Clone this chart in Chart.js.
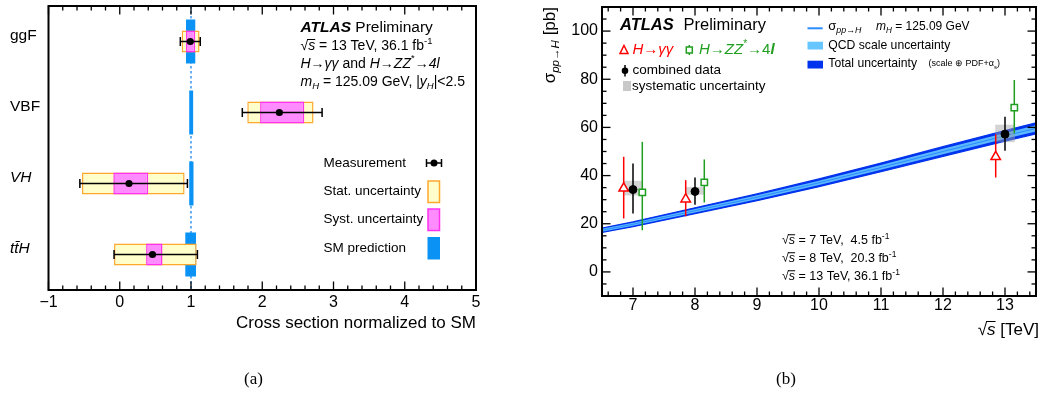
<!DOCTYPE html>
<html>
<head>
<meta charset="utf-8">
<script src="https://cdn.jsdelivr.net/npm/chart.js@4.4.0/dist/chart.umd.min.js"></script>
<style>
  body { margin: 0; background: #fff; width: 1043px; height: 401px; position: relative; overflow: hidden; }
  #wa { position: absolute; left: 0; top: 0; width: 520px; height: 401px; }
  #wb { position: absolute; left: 520px; top: 0; width: 523px; height: 401px; }
  .cap { position: absolute; top: 369px; font-family: "Liberation Serif", "Times New Roman", serif; font-size: 17px; }
</style>
</head>
<body>
<div id="wa"><canvas id="chartA"></canvas></div>
<div id="wb"><canvas id="chartB"></canvas></div>
<div class="cap" style="left:244px">(a)</div>
<div class="cap" style="left:776px">(b)</div>

<script>
const FONT = '"Liberation Sans", Arial, Helvetica, sans-serif';

// ---- panel (a): cross sections normalized to SM
const processes = ['ggF', 'VBF', 'VH', 'tt\u0304H'];
const measured = [0.99, 2.24, 0.13, 0.46];
const measLo = [0.85, 1.72, -0.56, -0.08];
const measHi = [1.13, 2.84, 0.95, 1.09];
const statBox = [[0.87, 1.12], [1.79, 2.72], [-0.53, 0.91], [-0.08, 1.08]];
const systBox = [[0.93, 1.06], [1.97, 2.59], [-0.09, 0.40], [0.37, 0.60]];
const smBand = [[0.93, 1.06], [0.975, 1.03], [0.975, 1.035], [0.92, 1.07]];
const smRef = 1;
const ratioTicks = [-1, 0, 1, 2, 3, 4, 5];

// ---- panel (b): sigma(pp->H) vs sqrt(s)
const xGamma = [6.85, 7.85, 12.85];
const gammaVal = [34.7, 30.2, 47.8];
const gammaLo = [22.2, 23.1, 39.2];
const gammaHi = [47.8, 38.1, 57.1];

const xZZ = [7.15, 8.15, 13.15];
const zzVal = [33.0, 37.2, 68.2];
const zzLo = [17.3, 28.8, 57.5];
const zzHi = [54.0, 46.7, 79.7];

const xComb = [7, 8, 13];
const combVal = [34.2, 33.4, 57.2];
const combLo = [24.3, 27.9, 50.3];
const combHi = [45.0, 39.2, 64.4];
const systLo = [31.9, 32.2, 54.0];
const systHi = [37.7, 35.1, 61.0];

const bandX = [6.5, 7, 8, 9, 10, 11, 12, 13, 13.5];
const theory = [17.3, 19.8, 25.4, 31.0, 37.0, 43.4, 50.0, 56.5, 59.6];
const qcdHi = [17.9, 20.4, 26.1, 31.8, 37.9, 44.4, 51.1, 57.7, 60.9];
const qcdLo = [16.7, 19.2, 24.7, 30.2, 36.1, 42.4, 48.9, 55.3, 58.3];
const totHi = [18.2, 20.8, 26.6, 32.4, 38.6, 45.2, 52.0, 58.7, 61.9];
const totLo = [16.4, 18.8, 24.2, 29.6, 35.4, 41.6, 48.0, 54.3, 57.3];

const energyTicks = [7, 8, 9, 10, 11, 12, 13];
const sigmaTicks = [0, 20, 40, 60, 80, 100];

Chart.defaults.font.family = FONT;
Chart.defaults.color = '#000';

// rich text: parts = [text, flags] ; b bold, i italic, _ sub, ^ sup, o overline
function rich(ctx, x, y, parts, size, align) {
  const items = parts.map(([t, f = '']) => {
    const small = f.includes('_') || f.includes('^');
    const sz = small ? size * 0.68 : size;
    const font = (f.includes('i') ? 'italic ' : '') + (f.includes('b') ? 'bold ' : '') + sz + 'px ' + FONT;
    ctx.font = font;
    const w = ctx.measureText(t).width;
    const dy = f.includes('_') ? size * 0.32 : f.includes('^') ? -size * 0.38 : 0;
    return { t, font, w, dy, over: f.includes('o'), sz };
  });
  const total = items.reduce((s, it) => s + it.w, 0);
  let cx = align === 'right' ? x - total : x;
  ctx.textAlign = 'left';
  ctx.textBaseline = 'middle';
  items.forEach(it => {
    ctx.font = it.font;
    ctx.fillText(it.t, cx, y + it.dy);
    if (it.over) {
      ctx.fillRect(cx - 1, y - it.sz * 0.5 - 0.5, it.w + 1, 1);
    }
    cx += it.w;
  });
  return total;
}

const errorBars = {
  id: 'errorBars',
  beforeDatasetDraw(chart, args) {
    const ds = chart.data.datasets[args.index];
    if (!ds.errLo) return;
    const ctx = chart.ctx;
    const xs = chart.scales.x, ys = chart.scales.y;
    ctx.save();
    ctx.strokeStyle = ds.errColor;
    ctx.lineWidth = 1.5;
    args.meta.data.forEach((pt, i) => {
      ctx.beginPath();
      if (ds.errAxis === 'x') {
        const a = xs.getPixelForValue(ds.errLo[i]);
        const b = xs.getPixelForValue(ds.errHi[i]);
        ctx.moveTo(a, pt.y); ctx.lineTo(b, pt.y);
        ctx.moveTo(a, pt.y - 4.5); ctx.lineTo(a, pt.y + 4.5);
        ctx.moveTo(b, pt.y - 4.5); ctx.lineTo(b, pt.y + 4.5);
      } else {
        const a = ys.getPixelForValue(ds.errLo[i]);
        const b = ys.getPixelForValue(ds.errHi[i]);
        ctx.moveTo(pt.x, a); ctx.lineTo(pt.x, b);
      }
      ctx.stroke();
    });
    ctx.restore();
  }
};

// minor/major tick values from a scale range
function tickList(min, max, minor, major) {
  const out = [];
  const k0 = Math.ceil(min / minor - 1e-6), k1 = Math.floor(max / minor + 1e-6);
  for (let k = k0; k <= k1; k++) {
    const v = k * minor;
    out.push({ v, major: Math.abs(v / major - Math.round(v / major)) < 1e-6 });
  }
  return out;
}

// inward tick marks on all sides + frame
function frameTicks(cfg) {
  return {
    id: 'frameTicks' + cfg.name,
    afterDraw(chart) {
      const ctx = chart.ctx;
      const xs = chart.scales.x, ys = chart.scales.y;
      const top = ys.top, bottom = xs.top, left = xs.left, right = xs.right;
      const w = 1.3;
      ctx.save();
      ctx.fillStyle = '#000';
      if (cfg.x) {
        tickList(xs.min, xs.max, cfg.x[0], cfg.x[1]).forEach(t => {
          const len = t.major ? 8.5 : 4.5;
          const p = xs.getPixelForValue(t.v);
          ctx.fillRect(p - w / 2, bottom - len, w, len);
          ctx.fillRect(p - w / 2, top, w, len);
        });
      }
      if (cfg.y) {
        tickList(ys.min, ys.max, cfg.y[0], cfg.y[1]).forEach(t => {
          const len = t.major ? 8.5 : 4.5;
          const p = ys.getPixelForValue(t.v);
          ctx.fillRect(left, p - w / 2, len, w);
          ctx.fillRect(right - len, p - w / 2, len, w);
        });
      }
      ctx.strokeStyle = '#000';
      ctx.lineWidth = 2;
      ctx.strokeRect(left, top, right - left, bottom - top);
      ctx.restore();
    }
  };
}

const noPad = a => { a.paddingTop = 0; a.paddingBottom = 0; a.paddingLeft = 0; a.paddingRight = 0; };

// ================= panel (a)
const panelA = {
  id: 'panelA',
  beforeDatasetsDraw(chart) {
    const ctx = chart.ctx;
    const x = chart.scales.x.getPixelForValue(smRef);
    ctx.save();
    ctx.strokeStyle = '#2b8fef';
    ctx.lineWidth = 1.4;
    ctx.setLineDash([2.5, 2.5]);
    ctx.beginPath();
    ctx.moveTo(x, chart.chartArea.top);
    ctx.lineTo(x, chart.chartArea.bottom);
    ctx.stroke();
    ctx.restore();
  },
  afterDraw(chart) {
    const ctx = chart.ctx;
    ctx.save();
    ctx.fillStyle = '#000';
    rich(ctx, 300.5, 28, [['ATLAS', 'bi'], [' Preliminary', '']], 15.5);
    rich(ctx, 300.5, 46.5, [['\u221a', ''], ['s', 'io'], [' = 13 TeV, 36.1 fb', ''], ['-1', '^']], 14);
    rich(ctx, 300.5, 64, [['H', 'i'], ['\u2192', ''], ['\u03b3\u03b3', 'i'], [' and ', ''], ['H', 'i'], ['\u2192', ''],
      ['ZZ', 'i'], ['*', '^'], ['\u2192', ''], ['4l', 'i']], 14);
    rich(ctx, 300.5, 82, [['m', 'i'], ['H', 'i_'], [' = 125.09 GeV, |', ''], ['y', 'i'], ['H', 'i_'], ['|<2.5', '']], 14);

    // legend
    const lx = 323.5;
    rich(ctx, lx, 163, [['Measurement', '']], 13.5);
    rich(ctx, lx, 191, [['Stat. uncertainty', '']], 13.5);
    rich(ctx, lx, 219.5, [['Syst. uncertainty', '']], 13.5);
    rich(ctx, lx, 248, [['SM prediction', '']], 13.5);

    ctx.strokeStyle = '#000';
    ctx.lineWidth = 1.5;
    ctx.beginPath();
    ctx.moveTo(426.5, 163); ctx.lineTo(441.5, 163);
    ctx.moveTo(426.5, 159); ctx.lineTo(426.5, 167);
    ctx.moveTo(441.5, 159); ctx.lineTo(441.5, 167);
    ctx.stroke();
    ctx.beginPath(); ctx.arc(434, 163, 3.5, 0, Math.PI * 2); ctx.fill();

    ctx.fillStyle = '#ffffcc'; ctx.strokeStyle = '#ffa82e';
    ctx.fillRect(428, 181, 11.5, 21.5); ctx.strokeRect(428, 181, 11.5, 21.5);
    ctx.fillStyle = '#ff8cff'; ctx.strokeStyle = '#ff33ee';
    ctx.fillRect(428, 209, 11.5, 21.5); ctx.strokeRect(428, 209, 11.5, 21.5);
    ctx.fillStyle = '#0a93f5';
    ctx.fillRect(427.5, 237, 12.5, 22.5);
    ctx.restore();
  }
};

new Chart(document.getElementById('chartA'), {
  type: 'bar',
  data: {
    labels: processes,
    datasets: [
      {
        type: 'line', label: 'Measurement', order: 0, showLine: false,
        data: measured.map((v, i) => ({ x: v, y: processes[i] })),
        pointRadius: 3.6, pointBackgroundColor: '#000', pointBorderColor: '#000', pointBorderWidth: 0,
        errLo: measLo, errHi: measHi, errAxis: 'x', errColor: '#000'
      },
      {
        label: 'Syst. uncertainty', order: 1, data: systBox, grouped: false,
        backgroundColor: '#ff8cff', borderColor: '#ff33ee', borderWidth: 1.5, borderSkipped: false,
        categoryPercentage: 1, barPercentage: 0.31
      },
      {
        label: 'Stat. uncertainty', order: 2, data: statBox, grouped: false,
        backgroundColor: '#ffffcc', borderColor: '#ffa82e', borderWidth: 1.5, borderSkipped: false,
        categoryPercentage: 1, barPercentage: 0.31
      },
      {
        label: 'SM prediction', order: 3, data: smBand, grouped: false,
        backgroundColor: '#0a93f5', borderWidth: 0,
        categoryPercentage: 1, barPercentage: 0.62
      }
    ]
  },
  options: {
    indexAxis: 'y',
    responsive: true,
    maintainAspectRatio: false,
    animation: false,
    layout: { padding: { left: 10, top: 6, right: 44, bottom: 67.8 } },
    plugins: { legend: { display: false }, tooltip: { enabled: false } },
    scales: {
      x: {
        type: 'linear', min: -1, max: 5, offset: false,
        grid: { display: false, drawTicks: false },
        border: { display: false },
        afterBuildTicks: a => { a.ticks = ratioTicks.map(v => ({ value: v })); },
        ticks: {
          padding: 2.5, font: { size: 16 },
          callback: v => (v < 0 ? '\u2212' + Math.abs(v) : String(v))
        },
        title: {
          display: true, text: 'Cross section normalized to SM', align: 'end',
          font: { size: 17 }, padding: { top: 0, bottom: 0 }
        },
        afterFit: a => { noPad(a); a.height = 43.2; }
      },
      y: {
        type: 'category',
        grid: { display: false, drawTicks: false },
        border: { display: false },
        ticks: {
          crossAlign: 'far', labelOffset: -5.5,
          font: c => ({ size: 15.5, style: c.index >= 2 ? 'italic' : 'normal' })
        },
        afterFit: a => { noPad(a); a.width = 38.5; }
      }
    }
  },
  plugins: [errorBars, panelA, frameTicks({ name: 'A', x: [0.2, 1] })]
});

// ================= panel (b)
const panelB = {
  id: 'panelB',
  afterDraw(chart) {
    const ctx = chart.ctx;
    ctx.save();
    ctx.fillStyle = '#000';
    // axis titles
    ctx.save();
    ctx.translate(30, 7);
    ctx.rotate(-Math.PI / 2);
    rich(ctx, 0, 0, [['\u03c3', ''], ['pp\u2192H', 'i_'], [' [pb]', '']], 17, 'right');
    ctx.restore();
    rich(ctx, 519, 330, [['\u221a', ''], ['s', 'io'], [' [TeV]', '']], 17, 'right');

    rich(ctx, 100, 25.5, [['ATLAS', 'bi']], 16.5);
    rich(ctx, 163.5, 25.5, [['Preliminary', '']], 16.5);

    // markers legend
    ctx.lineWidth = 1.5;
    ctx.strokeStyle = '#ff0000';
    ctx.fillStyle = '#fff';
    ctx.beginPath();
    ctx.moveTo(104, 45.5); ctx.lineTo(108, 53.5); ctx.lineTo(100, 53.5); ctx.closePath();
    ctx.fill(); ctx.stroke();
    ctx.fillStyle = '#ff0000';
    rich(ctx, 112.5, 50, [['H', 'i'], ['\u2192', ''], ['\u03b3\u03b3', 'i']], 15);
    ctx.strokeStyle = '#1f9e1f';
    ctx.fillStyle = '#fff';
    ctx.beginPath(); ctx.moveTo(169.3, 45); ctx.lineTo(169.3, 55); ctx.stroke();
    ctx.fillRect(166.3, 47, 6, 6); ctx.strokeRect(166.3, 47, 6, 6);
    ctx.fillStyle = '#1f9e1f';
    rich(ctx, 179, 50, [['H', 'i'], ['\u2192', ''], ['ZZ', 'i'], ['*', '^'], ['\u2192', ''], ['4', ''], ['l', 'bi']], 15);

    ctx.fillStyle = '#000';
    ctx.strokeStyle = '#000';
    ctx.beginPath(); ctx.moveTo(105, 65); ctx.lineTo(105, 76.5); ctx.stroke();
    ctx.beginPath(); ctx.arc(105, 70.7, 3.3, 0, Math.PI * 2); ctx.fill();
    rich(ctx, 112.5, 70.7, [['combined data', '']], 13.5);
    ctx.fillStyle = '#c8c8c8';
    ctx.fillRect(103, 81, 8, 10);
    ctx.fillStyle = '#000';
    rich(ctx, 112, 86.3, [['systematic uncertainty', '']], 13.5);

    // theory legend
    ctx.strokeStyle = '#2a8cff';
    ctx.lineWidth = 2;
    ctx.beginPath(); ctx.moveTo(287.5, 28.3); ctx.lineTo(302.7, 28.3); ctx.stroke();
    rich(ctx, 308.3, 26.5, [['\u03c3', ''], ['pp\u2192H', 'i_']], 13);
    rich(ctx, 356, 26.5, [['m', 'i'], ['H', 'i_'], [' = 125.09 GeV', '']], 12);
    ctx.fillStyle = '#66c6ff';
    ctx.fillRect(287.5, 41.7, 15.5, 7.8);
    ctx.fillStyle = '#0033ee';
    ctx.fillRect(287.5, 60.7, 15.5, 7.8);
    ctx.fillStyle = '#000';
    rich(ctx, 308.3, 45.5, [['QCD scale uncertainty', '']], 12.2);
    rich(ctx, 308.3, 63.5, [['Total uncertainty', '']], 12.2);
    rich(ctx, 408.5, 64, [['(scale \u2295 PDF+\u03b1', ''], ['s', '_'], [')', '']], 9);

    // dataset info
    rich(ctx, 262, 241, [['\u221a', ''], ['s', 'io'], [' = 7 TeV,  4.5 fb', ''], ['-1', '^']], 12.5);
    rich(ctx, 262, 259, [['\u221a', ''], ['s', 'io'], [' = 8 TeV,  20.3 fb', ''], ['-1', '^']], 12.5);
    rich(ctx, 262, 277, [['\u221a', ''], ['s', 'io'], [' = 13 TeV, 36.1 fb', ''], ['-1', '^']], 12.5);
    ctx.restore();
  }
};

const pts = (xs, ys) => xs.map((x, i) => ({ x, y: ys[i] }));

new Chart(document.getElementById('chartB'), {
  type: 'line',
  data: {
    datasets: [
      {
        label: 'combined data', order: 0, showLine: false, data: pts(xComb, combVal),
        pointStyle: 'circle', pointRadius: 4, pointBackgroundColor: '#000', pointBorderColor: '#000',
        errLo: combLo, errHi: combHi, errAxis: 'y', errColor: '#000'
      },
      {
        label: 'H->gg', order: 1, showLine: false, data: pts(xGamma, gammaVal),
        pointStyle: 'triangle', pointRadius: 5.5, pointBackgroundColor: '#fff', pointBorderColor: '#ff0000', pointBorderWidth: 1.5,
        errLo: gammaLo, errHi: gammaHi, errAxis: 'y', errColor: '#ff0000'
      },
      {
        label: 'H->ZZ', order: 2, showLine: false, data: pts(xZZ, zzVal),
        pointStyle: 'rect', pointRadius: 4.5, pointBackgroundColor: '#fff', pointBorderColor: '#1f9e1f', pointBorderWidth: 1.5,
        errLo: zzLo, errHi: zzHi, errAxis: 'y', errColor: '#1f9e1f'
      },
      {
        type: 'bar', label: 'systematic uncertainty', order: 3,
        data: xComb.map((x, i) => ({ x, y: [systLo[i], systHi[i]] })),
        backgroundColor: 'rgba(160,160,160,0.45)', borderWidth: 0, barThickness: 19
      },
      {
        label: 'sigma', order: 4, data: pts(bandX, theory),
        borderColor: '#2a8cff', borderWidth: 1, pointRadius: 0, fill: false
      },
      {
        label: 'qcd lo', order: 6, data: pts(bandX, qcdLo),
        borderColor: 'rgba(0,0,0,0)', borderWidth: 0, pointRadius: 0, fill: false
      },
      {
        label: 'qcd hi', order: 5, data: pts(bandX, qcdHi),
        borderColor: 'rgba(0,0,0,0)', borderWidth: 0, pointRadius: 0,
        fill: '-1', backgroundColor: '#5cb8ff'
      },
      {
        label: 'tot lo', order: 8, data: pts(bandX, totLo),
        borderColor: '#0033ee', borderWidth: 1.2, pointRadius: 0, fill: false
      },
      {
        label: 'tot hi', order: 7, data: pts(bandX, totHi),
        borderColor: '#0033ee', borderWidth: 1.2, pointRadius: 0,
        fill: '-1', backgroundColor: '#0033ee'
      }
    ]
  },
  options: {
    responsive: true,
    maintainAspectRatio: false,
    animation: false,
    layout: { padding: { left: 0, top: 7, right: 4, bottom: 0 } },
    plugins: { legend: { display: false }, tooltip: { enabled: false } },
    scales: {
      x: {
        type: 'linear', min: 6.5, max: 13.5, offset: false,
        grid: { display: false, drawTicks: false, offset: false },
        border: { display: false },
        afterBuildTicks: a => { a.ticks = energyTicks.map(v => ({ value: v })); },
        ticks: { padding: 0, font: { size: 16 } },
        afterFit: a => { noPad(a); a.height = 105; }
      },
      y: {
        type: 'linear', min: -10, max: 110,
        grid: { display: false, drawTicks: false },
        border: { display: false },
        afterBuildTicks: a => { a.ticks = sigmaTicks.map(v => ({ value: v })); },
        ticks: { padding: 4, font: { size: 16 } },
        afterFit: a => { noPad(a); a.width = 82; }
      }
    }
  },
  plugins: [errorBars, panelB, frameTicks({ name: 'B', x: [0.2, 1], y: [5, 20] })]
});
</script>
</body>
</html>
